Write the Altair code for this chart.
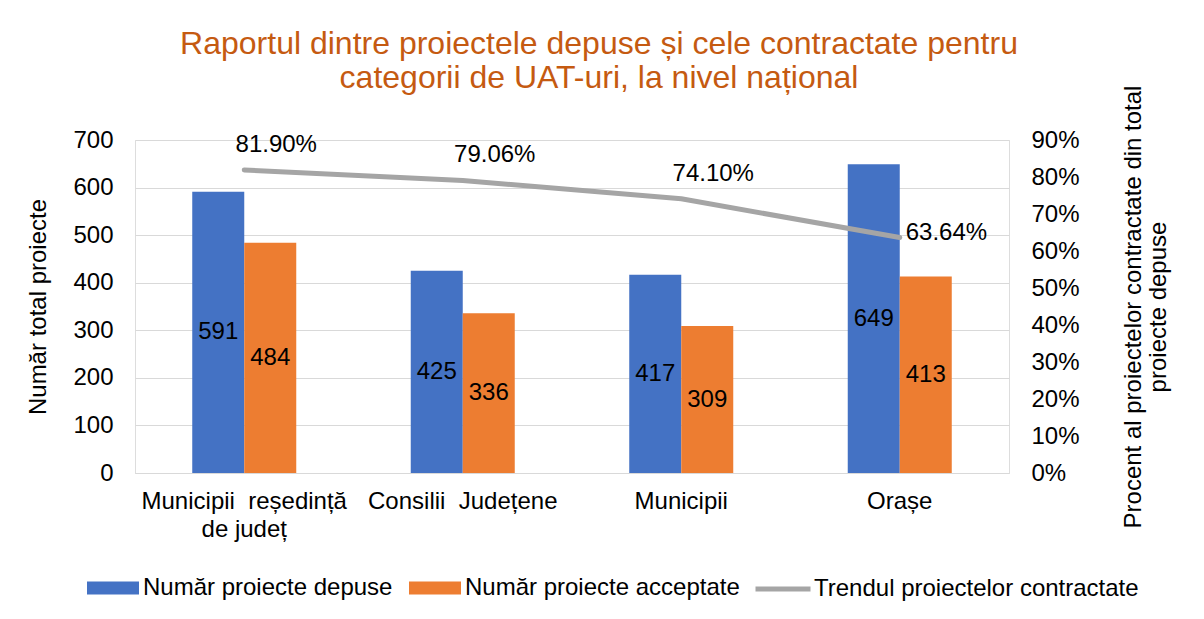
import altair as alt
import pandas as pd

categories = ["Municipii\u00a0 reședință\nde județ", "Consilii\u00a0 Județene", "Municipii", "Orașe"]
depuse = [591, 425, 417, 649]
acceptate = [484, 336, 309, 413]
procent = [81.90, 79.06, 74.10, 63.64]
series_names = ["Număr proiecte depuse", "Număr proiecte acceptate", "Trendul proiectelor contractate"]
series_colors = ["#4472C4", "#ED7D31", "#A5A5A5"]
left_ticks = [0, 100, 200, 300, 400, 500, 600, 700]
right_ticks = [0, 0.1, 0.2, 0.3, 0.4, 0.5, 0.6, 0.7, 0.8, 0.9]
title_lines = ["Raportul dintre proiectele depuse și cele contractate pentru",
               "categorii de UAT-uri, la nivel național"]

bars_df = pd.DataFrame({
    "categorie": categories * 2,
    "serie": [series_names[0]] * len(categories) + [series_names[1]] * len(categories),
    "valoare": depuse + acceptate,
})
bars_df["mid"] = bars_df["valoare"] / 2
line_df = pd.DataFrame({
    "categorie": categories,
    "serie": [series_names[2]] * len(categories),
    "procent": [p / 100 for p in procent],
})

FONT = "Liberation Sans"

rect_path = "M-1,-0.25H1V0.25H-1Z"
bar_legend = alt.Legend(
    title=None, orient="none", direction="horizontal", legendX=-48, legendY=422,
    labelFontSize=24, labelColor="black", labelFont=FONT, labelLimit=0,
    symbolSize=2704, symbolType=rect_path, labelOffset=4, columnPadding=16,
    padding=0, symbolOpacity=1, symbolStrokeWidth=0,
)
line_legend = alt.Legend(
    title=None, orient="none", direction="horizontal", legendX=618, legendY=419,
    labelFontSize=24, labelColor="black", labelFont=FONT, labelLimit=0,
    symbolSize=3025, symbolType="stroke", symbolStrokeWidth=5, labelOffset=1,
    padding=0, symbolOpacity=1,
)

x_enc = alt.X(
    "categorie:N", sort=categories,
    scale=alt.Scale(paddingInner=0.524, paddingOuter=0.262),
    axis=alt.Axis(title=None, labelExpr="split(datum.label, '\\n')", labelAngle=0,
                  labelFontSize=24, labelColor="black", labelPadding=16,
                  labelLineHeight=28, ticks=False, domainColor="#D9D9D9",
                  labelLimit=0, labelFont=FONT),
)

left_axis = alt.Axis(values=left_ticks, title="Număr total proiecte", titleFontSize=24,
                     titleFontWeight="normal", titleColor="black", titleFont=FONT,
                     labelFontSize=24, labelColor="black", labelFont=FONT,
                     grid=True, gridColor="#D9D9D9", domain=False, ticks=False,
                     labelPadding=22, titlePadding=22, labelOverlap=False)
y_left_scale = alt.Scale(domain=[0, 700])

bars = alt.Chart(bars_df).mark_bar().encode(
    x=x_enc,
    xOffset=alt.XOffset("serie:N", sort=series_names[:2],
                        scale=alt.Scale(domain=series_names[:2], paddingInner=0, paddingOuter=0)),
    y=alt.Y("valoare:Q", scale=y_left_scale, axis=left_axis),
    color=alt.Color("serie:N", scale=alt.Scale(domain=series_names[:2], range=series_colors[:2]),
                    legend=bar_legend),
)

bar_text = alt.Chart(bars_df).mark_text(fontSize=24, color="black", font=FONT, baseline="middle").encode(
    x=x_enc,
    xOffset=alt.XOffset("serie:N", sort=series_names[:2]),
    y=alt.Y("mid:Q", scale=y_left_scale, axis=left_axis),
    text=alt.Text("valoare:Q"),
)

left = alt.layer(bars, bar_text)

right_axis = alt.Axis(orient="right", format=".0%", values=right_ticks, tickCount=10,
                      title=["Procent al proiectelor contractate din total", "proiecte depuse"],
                      titleAngle=270, titleFontSize=24, titleFontWeight="normal",
                      titleColor="black", titleFont=FONT, titleLineHeight=25,
                      labelFontSize=24, labelColor="black", labelFont=FONT,
                      grid=False, domain=False, ticks=False, labelOverlap=False,
                      labelPadding=22, titlePadding=41)
y_right = alt.Y("procent:Q", scale=alt.Scale(domain=[0, 0.9]), axis=right_axis)

line = alt.Chart(line_df).mark_line(strokeWidth=5, strokeCap="round", strokeJoin="round").encode(
    x=x_enc,
    y=y_right,
    stroke=alt.Stroke("serie:N", scale=alt.Scale(domain=series_names[2:], range=series_colors[2:]),
                      legend=line_legend),
)

last_cat = categories[-1]
line_text_top = alt.Chart(line_df).transform_filter(
    alt.datum.categorie != last_cat
).mark_text(fontSize=24, color="black", font=FONT, dx=32, dy=-25, baseline="middle").encode(
    x=x_enc,
    y=y_right,
    text=alt.Text("procent:Q", format=".2%"),
)
line_text_right = alt.Chart(line_df).transform_filter(
    alt.datum.categorie == last_cat
).mark_text(fontSize=24, color="black", font=FONT, dx=6, dy=-5, align="left", baseline="middle").encode(
    x=x_enc,
    y=y_right,
    text=alt.Text("procent:Q", format=".2%"),
)

right = alt.layer(line, line_text_top, line_text_right)

chart = alt.layer(left, right).resolve_scale(y="independent").properties(
    width=874, height=333,
    padding={"left": 18, "top": 20, "right": 10, "bottom": 5},
    title=alt.Title(text=title_lines, fontSize=32, color="#C55A11", fontWeight="normal",
                    font=FONT, anchor="middle", frame="group", offset=-10, dx=27, lineHeight=34),
).configure_view(stroke=None).configure(font=FONT).configure_axis(labelOverlap=False)

chart.save("out.html", embed_options={"renderer": "svg", "actions": False})
